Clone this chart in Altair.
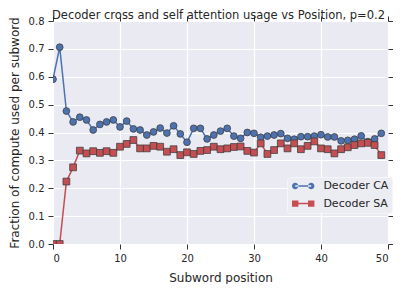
import altair as alt
import pandas as pd

positions = list(range(50))
ca_values = [0.591, 0.706, 0.477, 0.438, 0.455, 0.445, 0.409, 0.429, 0.438, 0.445,
             0.420, 0.441, 0.413, 0.409, 0.391, 0.402, 0.416, 0.398, 0.424, 0.395,
             0.365, 0.415, 0.415, 0.377, 0.391, 0.405, 0.415, 0.387, 0.379, 0.400,
             0.397, 0.383, 0.387, 0.391, 0.396, 0.379, 0.376, 0.385, 0.385, 0.387,
             0.392, 0.384, 0.384, 0.370, 0.372, 0.376, 0.388, 0.367, 0.377, 0.397]
sa_values = [0.000, 0.000, 0.224, 0.275, 0.335, 0.325, 0.333, 0.327, 0.333, 0.327,
             0.349, 0.359, 0.373, 0.343, 0.343, 0.352, 0.349, 0.331, 0.340, 0.319,
             0.329, 0.323, 0.334, 0.337, 0.349, 0.340, 0.343, 0.348, 0.350, 0.334,
             0.328, 0.361, 0.323, 0.337, 0.361, 0.343, 0.361, 0.340, 0.352, 0.368,
             0.343, 0.340, 0.325, 0.340, 0.347, 0.355, 0.361, 0.363, 0.355, 0.319]
series_names = ["Decoder CA", "Decoder SA"]
series_colors = ["#4C72B0", "#C44E52"]
series_shapes = ["circle", "square"]
x_ticks = [0, 10, 20, 30, 40, 50]
y_ticks = [0.0, 0.1, 0.2, 0.3, 0.4, 0.5, 0.6, 0.7, 0.8]

# legend glyphs: line with a marker at each end (unit space; 1 unit = sqrt(symbolSize)/2 px)
LINE = "M-1.6,-0.15H1.6V0.15H-1.6Z"
CIRC = ("M-2.24,0a0.64,0.64 0 1,0 1.28,0a0.64,0.64 0 1,0 -1.28,0Z"
        "M0.96,0a0.64,0.64 0 1,0 1.28,0a0.64,0.64 0 1,0 -1.28,0Z")
SQR = "M-2.24,-0.64h1.28v1.28h-1.28ZM0.96,-0.64h1.28v1.28h-1.28Z"
legend_shapes = [LINE + CIRC, LINE + SQR]

df = pd.DataFrame({
    "pos": positions + positions,
    "value": ca_values + sa_values,
    "series": [series_names[0]] * len(positions) + [series_names[1]] * len(positions),
})

FONT = "DejaVu Sans"
TXT = "#262626"

xs = alt.Scale(domain=[0, 50], nice=False, zero=False)
ys = alt.Scale(domain=[0, 0.8], nice=False)


def color_scale():
    return alt.Scale(domain=series_names, range=series_colors)


legend = alt.Legend(
    title=None, orient="none", legendX=234, legendY=156,
    fillColor="#ECECF3", strokeColor="#F6F6F9", cornerRadius=3, padding=3.5,
    labelFontSize=11, labelFont=FONT, labelColor=TXT, labelOffset=14.7,
    symbolSize=100, symbolStrokeWidth=0, symbolOpacity=1, symbolOffset=7.2, rowPadding=5.6,
)

lines = alt.Chart(df).mark_line(strokeWidth=1.5, clip=True).encode(
    x=alt.X("pos:Q", scale=xs, title="Subword position",
            axis=alt.Axis(values=x_ticks, format="d", grid=True, orient="bottom")),
    y=alt.Y("value:Q", scale=ys, title="Fraction of compute used per subword",
            axis=alt.Axis(values=y_ticks, format=".1f", grid=True, orient="left")),
    color=alt.Color("series:N", scale=color_scale(), legend=None),
)
points = alt.Chart(df).mark_point(filled=True, opacity=1, size=46, stroke="#404040",
                                   strokeWidth=0.8, clip=True).encode(
    x=alt.X("pos:Q", scale=xs,
            axis=alt.Axis(values=x_ticks, orient="top", labels=False, grid=False, title=None)),
    y=alt.Y("value:Q", scale=ys,
            axis=alt.Axis(values=y_ticks, orient="right", labels=False, grid=False, title=None)),
    color=alt.Color("series:N", scale=color_scale(), legend=None),
    shape=alt.Shape("series:N", scale=alt.Scale(domain=series_names, range=series_shapes), legend=None),
)
legend_layer = alt.Chart(df).mark_point(filled=True, opacity=0, clip=True).encode(
    x=alt.X("pos:Q", scale=xs, axis=None),
    y=alt.Y("value:Q", scale=ys, axis=None),
    color=alt.Color("series:N", scale=color_scale(), legend=legend),
    shape=alt.Shape("series:N", scale=alt.Scale(domain=series_names, range=legend_shapes), legend=legend),
)

chart = alt.layer(lines, points, legend_layer).resolve_axis(
    x="independent", y="independent"
).resolve_scale(shape="independent", color="independent").properties(
    width=335, height=223,
    autosize=alt.AutoSizeParams(type="none"),
    padding={"left": 45, "top": 13, "right": 5, "bottom": 40},
    title=alt.TitleParams("Decoder cross and self attention usage vs Position, p=0.2",
                          fontSize=11.5, font=FONT, color=TXT, fontWeight="normal",
                          anchor="middle", offset=-6, dx=-2),
).configure_view(fill="#EAEAF2", stroke=None).configure_axis(
    domain=False, tickColor="#333333", tickSize=5, tickWidth=1,
    labelFont=FONT, labelFontSize=10, labelColor=TXT, labelPadding=4,
    titleFont=FONT, titleFontSize=12, titleColor=TXT, titleFontWeight="normal",
    gridColor="#FFFFFF", gridWidth=1.2,
).configure_axisLeft(titlePadding=7).configure_axisBottom(titlePadding=9)

chart.save("out.html", embed_options={"renderer": "svg", "actions": False})
